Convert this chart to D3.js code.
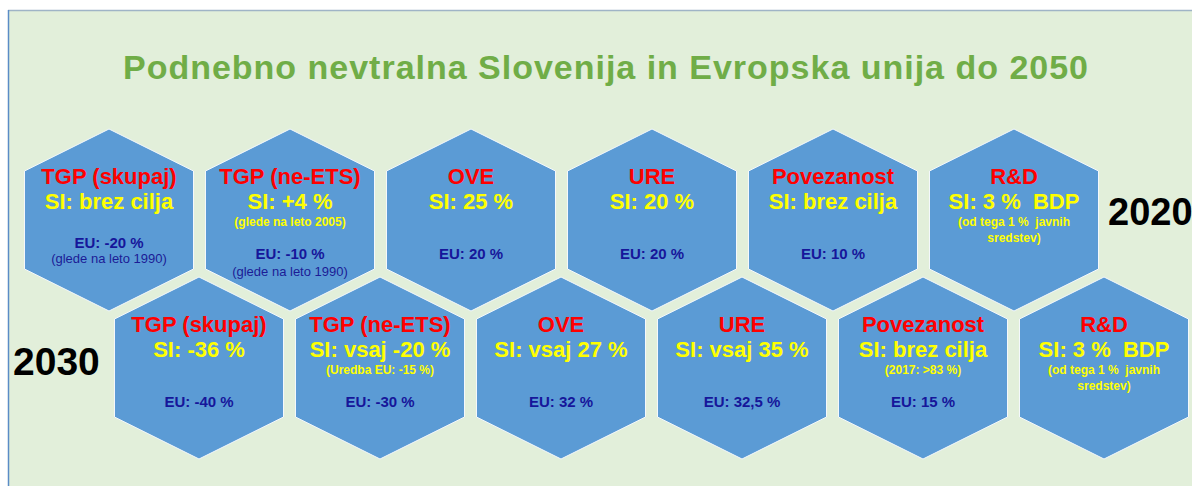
<!DOCTYPE html>
<html lang="sl">
<head>
	<meta charset="utf-8">
	<title>Podnebno nevtralna Slovenija in Evropska unija do 2050</title>
	<script src="https://cdn.jsdelivr.net/npm/d3@7"></script>
	<style>
		body { margin: 0; background: #ffffff; }
		svg { display: block; }
	</style>
</head>
<body>
<div id="chart"></div>
<script type="text/javascript">

	// Data: one hexagon per category and year
	var years = ["2020", "2030"];
	var categories = ["TGP (skupaj)", "TGP (ne-ETS)", "OVE", "URE", "Povezanost", "R&D"];

	var si2020 = ["SI: brez cilja", "SI: +4 %", "SI: 25 %", "SI: 20 %", "SI: brez cilja", "SI: 3 %  BDP"];
	var siNotes2020 = [[], ["(glede na leto 2005)"], [], [], [], ["(od tega 1 %  javnih", "sredstev)"]];
	var eu2020 = ["EU: -20 %", "EU: -10 %", "EU: 20 %", "EU: 20 %", "EU: 10 %", ""];
	var euNotes2020 = ["(glede na leto 1990)", "(glede na leto 1990)", "", "", "", ""];

	var si2030 = ["SI: -36 %", "SI: vsaj -20 %", "SI: vsaj 27 %", "SI: vsaj 35 %", "SI: brez cilja", "SI: 3 %  BDP"];
	var siNotes2030 = [[], ["(Uredba EU: -15 %)"], [], [], ["(2017: >83 %)"], ["(od tega 1 %  javnih", "sredstev)"]];
	var eu2030 = ["EU: -40 %", "EU: -30 %", "EU: 32 %", "EU: 32,5 %", "EU: 15 %", ""];
	var euNotes2030 = ["", "", "", "", "", ""];

	var title = "Podnebno nevtralna Slovenija in Evropska unija do 2050";

	// build one table from the arrays
	var cells = [];
	years.forEach(function(year, r) {
		var si = r == 0 ? si2020 : si2030;
		var siNotes = r == 0 ? siNotes2020 : siNotes2030;
		var eu = r == 0 ? eu2020 : eu2030;
		var euNotes = r == 0 ? euNotes2020 : euNotes2030;
		categories.forEach(function(cat, i) {
			cells.push({year: year, row: r, col: i, cat: cat, si: si[i],
				siNotes: siNotes[i], eu: eu[i], euNote: euNotes[i]});
		});
	});

	//Width and height
	var width = 1192;
	var height = 486;
	var font = "Arial, 'Liberation Sans', sans-serif";

	var svg = d3.select("#chart")
		.append("svg")
		.attr("width", width)
		.attr("height", height);

	// slide background with its frame
	svg.append("rect")
		.attr("x", 8).attr("y", 10)
		.attr("width", width).attr("height", height)
		.style("fill", "#e2efda");
	svg.append("line")
		.attr("x1", 8).attr("x2", width).attr("y1", 10.5).attr("y2", 10.5)
		.style("stroke", "#9fb4c6").style("stroke-width", 1.5);
	svg.append("line")
		.attr("x1", 8.5).attr("x2", 8.5).attr("y1", 10).attr("y2", height)
		.style("stroke", "#5b8cc6").style("stroke-width", 1.5);

	// Title
	svg.append("text")
		.attr("x", 605.5)
		.attr("y", 79)
		.attr("text-anchor", "middle")
		.attr("textLength", 965)
		.attr("lengthAdjust", "spacing")
		.style("font-family", font)
		.style("font-weight", "bold")
		.style("font-size", "34px")
		.style("fill", "#70ad47")
		.text(title);

	// scales: column -> centre x, year -> centre y
	var xScale = d3.scalePoint()
		.domain(d3.range(categories.length))
		.range([109, 1014]);
	var rowShift = 90;
	var yScale = d3.scalePoint()
		.domain(years)
		.range([220, 368]);

	// hexagon shape (pointy top)
	var hw = 84.5, hh = 91, hs = 49;
	var hexPoints = [[0, -hh], [hw, -hs], [hw, hs], [0, hh], [-hw, hs], [-hw, -hs]];
	var hexLine = d3.line().curve(d3.curveLinearClosed);

	var hexes = svg.selectAll("g.hex")
		.data(cells)
		.enter()
		.append("g")
		.attr("class", "hex")
		.attr("transform", function(d) {
			var cx = xScale(d.col) + d.row * rowShift;
			return "translate(" + cx + "," + yScale(d.year) + ")";
		});

	hexes.append("path")
		.attr("d", hexLine(hexPoints))
		.style("fill", "#5b9bd5")
		.style("stroke", "#f4f8fc")
		.style("stroke-width", 1);

	// lay out the text lines inside each hexagon
	function lines(d) {
		var out = [];
		out.push({t: d.cat, y: -36, size: 22, bold: true, color: "#ff0000"});
		out.push({t: d.si, y: -11, size: 22, bold: true, color: "#ffff00"});
		d.siNotes.forEach(function(n, k) {
			out.push({t: n, y: 6 + k * 16, size: 12, bold: true, color: "#ffff00"});
		});
		if (d.eu) {
			var euY = (d.euNote && d.siNotes.length == 0) ? 28 : 39;
			out.push({t: d.eu, y: euY, size: 15, bold: true, color: "#16169a"});
			if (d.euNote) {
				out.push({t: d.euNote, y: euY + (d.siNotes.length ? 17 : 15), size: 13, bold: false, color: "#1c1c96"});
			}
		}
		return out;
	}

	hexes.selectAll("text")
		.data(function(d) { return lines(d); })
		.enter()
		.append("text")
		.attr("x", 0)
		.attr("y", function(l) { return l.y; })
		.attr("text-anchor", "middle")
		.style("white-space", "pre")
		.style("font-family", font)
		.style("font-weight", function(l) { return l.bold ? "bold" : "normal"; })
		.style("font-size", function(l) { return l.size + "px"; })
		.style("fill", function(l) { return l.color; })
		.text(function(l) { return l.t; });

	// year labels
	svg.append("text")
		.attr("x", 1108)
		.attr("y", yScale("2020") + 5)
		.style("font-family", font)
		.style("font-weight", "bold")
		.style("font-size", "38px")
		.style("fill", "#000000")
		.text("2020");
	svg.append("text")
		.attr("x", 13)
		.attr("y", yScale("2030") + 7)
		.style("font-family", font)
		.style("font-weight", "bold")
		.style("font-size", "39px")
		.style("fill", "#000000")
		.text("2030");

</script>
</body>
</html>
